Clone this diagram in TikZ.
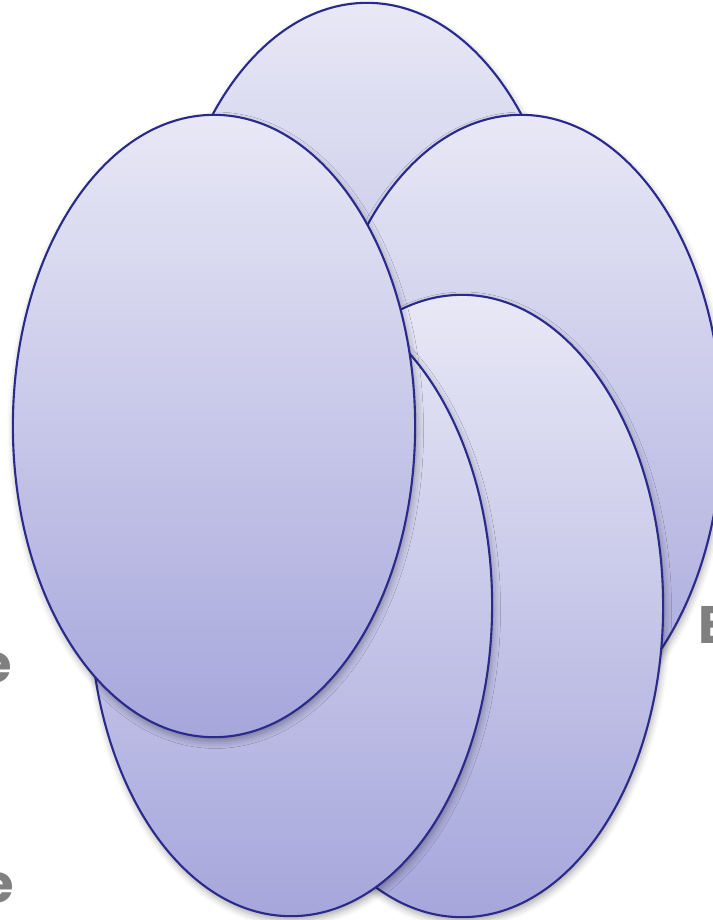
\documentclass[tikz,border=0pt]{standalone}
\usepackage{fontspec}
\setmainfont{Poppins}
\usetikzlibrary{shapes.geometric,shadows.blur}
\definecolor{edgeblue}{RGB}{42,42,140}
\definecolor{topfill}{RGB}{232,232,246}
\definecolor{botfill}{RGB}{166,166,220}
\definecolor{txtgray}{RGB}{128,128,128}
\tikzset{
  petal/.style={ellipse, draw=edgeblue, line width=0.6pt, inner sep=0pt,
    minimum width=4.02cm, minimum height=6.22cm,
    top color=topfill, bottom color=botfill,
    blur shadow={shadow xshift=0.4pt, shadow yshift=-1.2pt, shadow blur radius=2pt, shadow opacity=35}},
  lbl/.style={text=txtgray, font=\bfseries\fontsize{15}{18}\selectfont, inner sep=0pt}
}
\begin{document}
\begin{tikzpicture}[x=0.01cm,y=-0.01cm]
\useasboundingbox (0,0) rectangle (713,920);
\clip (0,0) rectangle (713,920);
\node[lbl, anchor=base east] (t1) at (13,682) {e};
\node[lbl, anchor=base east] (t2) at (15,902) {e};
\node[lbl, anchor=base west] (t3) at (698,643) {E};
\node[petal] (top) at (367,314) {};
\node[petal] (right) at (521,426) {};
\node[petal] (bright) at (462,606) {};
\node[petal] (bleft) at (291,605) {};
\node[petal] (left) at (214,426) {};
\end{tikzpicture}
\end{document}
